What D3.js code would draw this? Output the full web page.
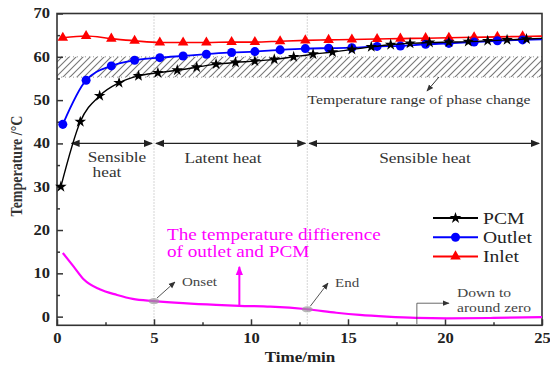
<!DOCTYPE html>
<html>
<head>
<meta charset="utf-8">
<script src="https://cdn.jsdelivr.net/npm/d3@7/dist/d3.min.js"></script>
<style>
  body { margin: 0; background: #fff; }
</style>
</head>
<body>
<div id="chart"></div>
<script>
(function () {
  // 数据
  const pcmTime = [0.2, 1.2, 2.2, 3.2, 4.2, 5.2, 6.2, 7.2, 8.2, 9.2, 10.2, 11.2, 12.2, 13.2, 14.2, 15.2, 16.2, 17.2, 18.2, 19.2, 20.2, 21.2, 22.2, 23.2, 24.2];
  const pcmTemp = [30, 45, 51, 54, 55.6, 56.3, 56.9, 57.6, 58.3, 58.7, 59.0, 59.4, 60.0, 60.6, 61.1, 61.7, 62.3, 62.8, 63.1, 63.3, 63.4, 63.5, 63.7, 63.9, 64.1];

  const outTime = [0.3, 1.5, 2.8, 4.0, 5.3, 6.5, 7.7, 9.0, 10.2, 11.5, 12.8, 14.0, 15.2, 16.5, 17.7, 19.0, 20.2, 21.5, 22.7, 24.0];
  const outTemp = [44.4, 54.6, 57.9, 59.2, 59.8, 60.2, 60.6, 61.0, 61.2, 61.6, 61.9, 62.0, 62.1, 62.4, 62.5, 62.9, 63.1, 63.4, 63.7, 63.9];

  const inTime = [0.3, 1.5, 2.8, 4.0, 5.3, 6.5, 7.7, 9.0, 10.2, 11.5, 12.8, 14.0, 15.2, 16.5, 17.7, 19.0, 20.2, 21.5, 22.7, 24.0];
  const inTemp = [64.4, 64.8, 64.2, 63.7, 63.3, 63.3, 63.3, 63.4, 63.4, 63.6, 63.8, 63.9, 64.0, 64.1, 64.2, 64.3, 64.4, 64.5, 64.6, 64.7];

  const diffTime = [0.3, 0.85, 1.4, 2.2, 3.1, 3.9, 5.0, 6.5, 8.2, 9.4, 11.0, 12.9, 14.4, 15.6, 17.0, 18.5, 20.1, 22.5, 25];
  const diffTemp = [14.7, 11.6, 8.5, 6.3, 5.0, 4.1, 3.6, 3.1, 2.7, 2.5, 2.3, 1.7, 0.9, 0.4, 0.0, -0.3, -0.4, -0.3, -0.1];

  const xTicks = [0, 5, 10, 15, 20, 25];
  const yTicks = [0, 10, 20, 30, 40, 50, 60, 70];
  const phaseRange = [55.3, 60];
  const stageBounds = [5, 12.9];
  const seriesNames = ["PCM", "Outlet", "Inlet"];
  const seriesColors = ["#000", "#0000ff", "#ff0000"];

  const width = 550;
  const height = 365;
  const FONT = "'Liberation Serif', 'Times New Roman', 'DejaVu Serif', serif";
  const SX = 1.2; // 原图横向被拉伸

  const svg = d3.select("#chart")
    .append("svg")
    .attr("width", width)
    .attr("height", height);

  const x = d3.scaleLinear().domain([0, 25]).range([57, 542]);
  const y = d3.scaleLinear().domain([-2, 70]).range([325.3, 13.5]);

  // 带横向拉伸的文字
  function addText(px, py, str, size, color, anchor, bold) {
    return svg.append("text")
      .attr("transform", `translate(${px},${py}) scale(${SX},1)`)
      .attr("text-anchor", anchor || "start")
      .attr("font-family", FONT)
      .attr("font-size", size)
      .attr("font-weight", bold ? "bold" : "normal")
      .attr("fill", color)
      .text(str);
  }

  const defs = svg.append("defs");
  defs.append("pattern")
    .attr("id", "hatch")
    .attr("patternUnits", "userSpaceOnUse")
    .attr("width", 7)
    .attr("height", 7)
    .append("path")
    .attr("d", "M-1,1 l2,-2 M0,7 l7,-7 M6,8 l2,-2")
    .attr("stroke", "#777")
    .attr("stroke-width", 1.1);

  function arrowMarker(id, color, size) {
    defs.append("marker")
      .attr("id", id)
      .attr("viewBox", "0 -5 10 10")
      .attr("refX", 9)
      .attr("refY", 0)
      .attr("markerUnits", "userSpaceOnUse")
      .attr("markerWidth", size)
      .attr("markerHeight", size)
      .attr("orient", "auto-start-reverse")
      .append("path")
      .attr("d", "M0,-4L10,0L0,4Z")
      .attr("fill", color);
  }
  arrowMarker("arr-black", "#222", 9);
  arrowMarker("arr-gray", "#333", 7);
  arrowMarker("arr-mag", "#ff00ff", 9);

  // 相变温度区
  svg.append("rect")
    .attr("x", x(0))
    .attr("y", y(phaseRange[1]))
    .attr("width", x(25) - x(0))
    .attr("height", y(phaseRange[0]) - y(phaseRange[1]))
    .attr("fill", "url(#hatch)");
  svg.selectAll("line.band")
    .data(phaseRange)
    .enter()
    .append("line")
    .attr("x1", x(0))
    .attr("x2", x(25))
    .attr("y1", d => y(d))
    .attr("y2", d => y(d))
    .attr("stroke", "#999")
    .attr("stroke-width", 1)
    .attr("stroke-dasharray", "1,3");

  svg.selectAll("line.stage")
    .data(stageBounds)
    .enter()
    .append("line")
    .attr("x1", d => x(d))
    .attr("x2", d => x(d))
    .attr("y1", y(70))
    .attr("y2", y(-2))
    .attr("stroke", "#aaa")
    .attr("stroke-width", 1)
    .attr("stroke-dasharray", "1,2");

  // 坐标轴
  const axisColor = "#333";
  svg.append("rect")
    .attr("x", x(0))
    .attr("y", y(70))
    .attr("width", x(25) - x(0))
    .attr("height", y(-2) - y(70))
    .attr("fill", "none")
    .attr("stroke", axisColor)
    .attr("stroke-width", 1.6);

  svg.append("g")
    .attr("transform", `translate(0,${y(-2)})`)
    .call(d3.axisBottom(x).tickValues(xTicks).tickSize(-6).tickPadding(8))
    .call(g => g.select(".domain").remove())
    .call(g => g.selectAll("line").attr("stroke", axisColor).attr("stroke-width", 1.5))
    .call(g => g.selectAll("text").attr("font-size", 13.8).attr("font-weight", "bold").attr("fill", "#222")
      .attr("font-family", FONT).attr("transform", `scale(${SX},1)`));
  svg.append("g")
    .attr("transform", `translate(0,${y(-2)})`)
    .call(d3.axisBottom(x).tickValues(d3.range(2.5, 25, 5)).tickSize(-3).tickFormat(""))
    .call(g => g.select(".domain").remove())
    .call(g => g.selectAll("line").attr("stroke", axisColor).attr("stroke-width", 1.5));

  svg.append("g")
    .attr("transform", `translate(${x(0)},0)`)
    .call(d3.axisLeft(y).tickValues(yTicks).tickSize(-6).tickPadding(7))
    .call(g => g.select(".domain").remove())
    .call(g => g.selectAll("line").attr("stroke", axisColor).attr("stroke-width", 1.5))
    .call(g => g.selectAll("text").attr("font-size", 13.8).attr("font-weight", "bold").attr("fill", "#222")
      .attr("font-family", FONT).attr("transform", `translate(-7,0) scale(${SX},1) translate(7,0)`));
  svg.append("g")
    .attr("transform", `translate(${x(0)},0)`)
    .call(d3.axisLeft(y).tickValues(d3.range(5, 70, 10)).tickSize(-3).tickFormat(""))
    .call(g => g.select(".domain").remove())
    .call(g => g.selectAll("line").attr("stroke", axisColor).attr("stroke-width", 1.5));

  addText(300, 362, "Time/min", 14.2, "#222", "middle", true);

  svg.append("text")
    .attr("transform", `translate(22,166) rotate(-90) scale(1,${SX})`)
    .attr("text-anchor", "middle")
    .attr("font-family", FONT)
    .attr("font-size", 14)
    .attr("font-weight", "bold")
    .attr("fill", "#333")
    .text("Temperature /°C");

  // 阶段箭头
  const stageArrows = [[0.75, 4.9], [5.1, 12.8], [13.0, 24.85]];
  svg.selectAll("line.stage-arrow")
    .data(stageArrows)
    .enter()
    .append("line")
    .attr("x1", d => x(d[0]))
    .attr("x2", d => x(d[1]))
    .attr("y1", y(40))
    .attr("y2", y(40))
    .attr("stroke", "#222")
    .attr("stroke-width", 1.3)
    .attr("marker-start", "url(#arr-black)")
    .attr("marker-end", "url(#arr-black)");

  addText(117, 161.5, "Sensible", 14.4, "#333", "middle");
  addText(107, 177, "heat", 14.4, "#333", "middle");
  addText(223, 163, "Latent heat", 14.4, "#333", "middle");
  addText(425, 163, "Sensible heat", 14.4, "#333", "middle");

  addText(419, 103.5, "Temperature range of phase change", 13.1, "#333", "middle");
  svg.append("line")
    .attr("x1", 439).attr("y1", 77)
    .attr("x2", 427).attr("y2", 91)
    .attr("stroke", "#333")
    .attr("stroke-width", 1)
    .attr("marker-end", "url(#arr-gray)");

  // 温差曲线
  const diffLine = d3.line()
    .x((d, i) => x(diffTime[i]))
    .y(d => y(d))
    .curve(d3.curveMonotoneX);
  svg.append("path")
    .attr("d", diffLine(diffTemp))
    .attr("fill", "none")
    .attr("stroke", "#ff00ff")
    .attr("stroke-width", 2.2);

  svg.append("line")
    .attr("x1", x(9.4)).attr("y1", y(2.5))
    .attr("x2", x(9.4)).attr("y2", y(11.5))
    .attr("stroke", "#ff00ff")
    .attr("stroke-width", 2)
    .attr("marker-end", "url(#arr-mag)");

  addText(167, 239.5, "The temperature diffierence", 16, "#ff00ff", "start");
  addText(167, 257, "of outlet and PCM", 16, "#ff00ff", "start");

  // Onset / End 标注
  const marks = [
    { t: "Onset", xv: 5, yv: 3.6, tx: 182, ty: 286 },
    { t: "End", xv: 12.9, yv: 1.7, tx: 335, ty: 287 }
  ];
  marks.forEach(m => {
    svg.append("ellipse")
      .attr("cx", x(m.xv))
      .attr("cy", y(m.yv))
      .attr("rx", 5.5)
      .attr("ry", 3)
      .attr("fill", "#999")
      .attr("fill-opacity", 0.7);
    svg.append("line")
      .attr("x1", x(m.xv) + 3).attr("y1", y(m.yv) - 3)
      .attr("x2", m.tx - 7).attr("y2", m.ty - 4)
      .attr("stroke", "#555")
      .attr("stroke-width", 1)
      .attr("marker-end", "url(#arr-gray)");
    addText(m.tx, m.ty, m.t, 12.5, "#444", "start");
  });

  svg.append("path")
    .attr("d", `M${x(18.55)},${y(-1.7)}V${y(3.1)}H${x(20.2)}`)
    .attr("fill", "none")
    .attr("stroke", "#444")
    .attr("stroke-width", 0.8)
    .attr("marker-end", "url(#arr-gray)");
  addText(457, 297, "Down to", 13, "#444", "start");
  addText(457, 312, "around zero", 13, "#444", "start");

  // 温度曲线
  const series = [
    { name: seriesNames[2], t: inTime, v: inTemp, color: seriesColors[2], sym: d3.symbolTriangle, size: 48, w: 1.6 },
    { name: seriesNames[1], t: outTime, v: outTemp, color: seriesColors[1], sym: d3.symbolCircle, size: 64, w: 1.8 },
    { name: seriesNames[0], t: pcmTime, v: pcmTemp, color: seriesColors[0], sym: d3.symbolStar, size: 42, w: 1.4 }
  ];

  series.forEach(s => {
    const line = d3.line()
      .x((d, i) => x(s.t[i]))
      .y(d => y(d))
      .curve(d3.curveMonotoneX);
    svg.append("path")
      .attr("d", line(s.v))
      .attr("fill", "none")
      .attr("stroke", s.color)
      .attr("stroke-width", s.w);
    // 延伸到右边框
    const n = s.v.length;
    const slope = (s.v[n - 1] - s.v[n - 2]) / (s.t[n - 1] - s.t[n - 2]);
    svg.append("line")
      .attr("x1", x(s.t[n - 1])).attr("y1", y(s.v[n - 1]))
      .attr("x2", x(25)).attr("y2", y(s.v[n - 1] + slope * (25 - s.t[n - 1])))
      .attr("stroke", s.color)
      .attr("stroke-width", s.w);
    svg.selectAll(null)
      .data(s.v)
      .enter()
      .append("path")
      .attr("transform", (d, i) => `translate(${x(s.t[i])},${y(d)})`)
      .attr("d", d3.symbol().type(s.sym).size(s.size))
      .attr("fill", s.color);
  });

  // 图例
  const legendItems = series.slice().reverse();
  legendItems.forEach((s, i) => {
    const ly = 218 + i * 19.2;
    svg.append("line")
      .attr("x1", 433).attr("x2", 478)
      .attr("y1", ly).attr("y2", ly)
      .attr("stroke", s.color)
      .attr("stroke-width", 2);
    svg.append("path")
      .attr("transform", `translate(455.5,${ly})`)
      .attr("d", d3.symbol().type(s.sym).size(s.size))
      .attr("fill", s.color);
    addText(483, ly + 5.5, s.name, 16.3, "#222", "start");
  });
})();
</script>
</body>
</html>
